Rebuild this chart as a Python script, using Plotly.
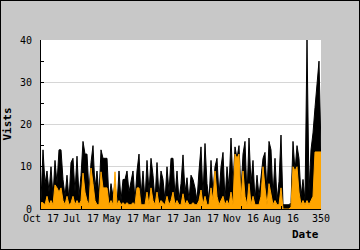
import plotly.graph_objects as go

# day index (0..350, step 2.5)
days = [i * 2.5 for i in range(141)]

visits = [2, 14, 6, 9, 4, 10, 3, 11.5, 6, 14,
          14, 7, 3, 8, 2, 11, 12, 4, 12.5, 3,
          8, 16, 13, 13, 4, 11, 15, 5, 9, 3,
          14, 12, 12, 12, 2, 6, 3, 6, 1, 9,
          2, 7, 7, 9, 4, 7, 9, 2, 9, 13,
          3, 9, 2, 11.5, 4, 12, 8, 2, 11, 3,
          9, 7, 2, 10, 4, 12, 12, 3, 9, 2,
          6, 12.8, 4, 7.4, 2, 8, 7, 5, 2, 9,
          14.7, 3, 15.5, 6, 2, 11.5, 4, 10, 12, 3,
          10, 13.4, 2, 10, 5, 16.8, 6, 14.7, 12, 15,
          4, 13, 16, 3, 16.8, 6, 11.5, 2, 8, 3,
          7, 12, 13.4, 4, 16, 14, 3, 12, 2, 6.5,
          17.5, 1, 1, 1, 1, 1.5, 16, 9, 15, 12,
          3, 7, 2, 40, 4, 14, 18, 24, 30, 35,
          14]

unique = [1.5, 1.5, 1, 3, 1, 2, 1, 5.7, 5, 4,
          5, 2, 1, 3, 1, 1.5, 3, 1, 2, 1,
          2, 8.5, 4, 2, 1, 9.7, 6, 2, 1, 1,
          8.8, 5, 5, 5, 1, 2, 1, 8.8, 1, 2,
          1, 1.5, 1, 1.5, 1, 1, 1.5, 1, 5, 5,
          1, 1, 1, 4, 1, 5, 2, 1, 4, 1,
          2, 1.5, 1, 3, 1, 2, 4, 1, 2, 1,
          1, 3.6, 1, 2, 1, 1, 1.5, 1, 1, 2,
          4.5, 1, 3, 1, 1, 5, 2, 9, 3, 1,
          2, 3, 1, 2, 1, 4, 1, 13, 12, 13,
          2, 9, 3, 1, 6, 1, 3, 1, 1, 1,
          3, 10, 5, 1, 6, 3, 1, 2, 1, 1,
          5, 0, 0, 0, 0, 0.5, 10, 9, 10, 4,
          1, 2, 1, 2, 1, 2, 3, 13.5, 13.5, 13.5,
          13.5]

tick_vals = [0, 50, 100, 150, 200, 250, 300, 350]
tick_text = ["Oct 17", "Jul 17", "May 17", "Mar 17", "Jan 17", "Nov 16", "Aug 16", "350"]

FONT = "DejaVu Sans Mono"

fig = go.Figure()
fig.add_trace(go.Scatter(x=days, y=visits, mode="lines", fill="tozeroy",
                         line=dict(color="black", width=1), fillcolor="black",
                         hoverinfo="skip"))
fig.add_trace(go.Scatter(x=days, y=unique, mode="lines", fill="tozeroy",
                         line=dict(color="#ffa500", width=1), fillcolor="#ffa500",
                         hoverinfo="skip"))

W, H = 360, 250
L, R, T, B = 41, 39, 40, 41
pw, ph = W - L - R, H - T - B

fig.update_layout(
    width=W, height=H,
    margin=dict(l=L, r=R, t=T, b=B),
    paper_bgcolor="#c8c8c8", plot_bgcolor="white",
    showlegend=False,
    font=dict(family=FONT, size=10, color="black"),
    xaxis=dict(range=[0, 350], tickvals=tick_vals, ticktext=tick_text,
               ticks="inside", ticklen=3, tickcolor="black",
               showline=True, linecolor="black", linewidth=1,
               showgrid=False, zeroline=False, fixedrange=True,
               tickfont=dict(family=FONT, size=10, color="black")),
    yaxis=dict(range=[0, 40], tickvals=[0, 10, 20, 30, 40],
               ticks="inside", ticklen=3, tickcolor="black",
               minor=dict(tickvals=[5, 15, 25, 35], ticks="inside", ticklen=3,
                          tickcolor="black", showgrid=False),
               showline=True, linecolor="black", linewidth=1,
               showgrid=True, gridcolor="#d6d6d6", gridwidth=1,
               zeroline=False, fixedrange=True, ticklabelstandoff=6,
               tickfont=dict(family=FONT, size=10, color="black")),
    annotations=[
        dict(text="<b>Vists</b>", textangle=-90, xref="paper", yref="paper",
             x=-34 / pw, y=0.5, xanchor="center", yanchor="middle",
             showarrow=False, font=dict(family=FONT, size=11, color="black")),
        dict(text="<b>Date</b>", xref="paper", yref="paper",
             x=1, y=-26 / ph, xanchor="right", yanchor="middle",
             showarrow=False, font=dict(family=FONT, size=11, color="black")),
    ],
    shapes=[dict(type="rect", xref="paper", yref="paper",
                 x0=-L / pw, x1=1 + R / pw, y0=-B / ph, y1=1 + T / ph,
                 line=dict(color="black", width=2), layer="above")],
)

fig.write_html("out.html", config={"displayModeBar": False})
